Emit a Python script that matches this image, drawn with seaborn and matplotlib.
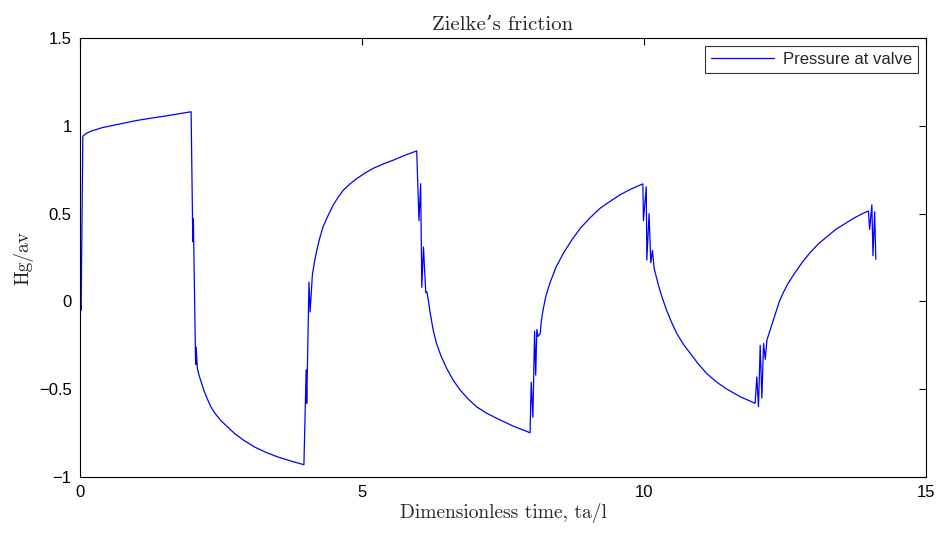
import matplotlib
matplotlib.use("Agg")
import matplotlib.pyplot as plt
import seaborn as sns
import pandas as pd

# Dimensionless time (ta/l) and pressure head at valve (Hg/av)
time_values = [
    0.00, 0.02, 0.05, 0.08, 0.12, 0.20, 0.30, 0.40, 0.55, 0.70, 0.85, 1.00, 1.25, 1.50, 1.75, 1.97,
    2.00, 2.01, 2.05, 2.06, 2.08, 2.11, 2.15, 2.20, 2.25, 2.32, 2.40, 2.50, 2.60, 2.75, 2.90, 3.10,
    3.30, 3.50, 3.75, 3.97,
    4.01, 4.02, 4.06, 4.08, 4.12, 4.16, 4.20, 4.25, 4.31, 4.40, 4.49, 4.58, 4.67, 4.79, 4.91, 5.05,
    5.20, 5.38, 5.56, 5.76, 5.97,
    6.01, 6.04, 6.06, 6.09, 6.13, 6.15, 6.18, 6.21, 6.26, 6.32, 6.40, 6.50, 6.62, 6.74, 6.88, 7.03,
    7.20, 7.39, 7.68, 7.98,
    8.00, 8.03, 8.06, 8.08, 8.10, 8.12, 8.16, 8.18, 8.21, 8.26, 8.33, 8.44, 8.57, 8.72, 8.87, 9.04,
    9.22, 9.40, 9.57, 9.77, 9.98,
    9.99, 10.04, 10.05, 10.09, 10.12, 10.15, 10.18, 10.23, 10.28, 10.34, 10.40, 10.49, 10.58, 10.70,
    10.82, 10.96, 11.11, 11.29, 11.47, 11.72, 11.97,
    12.00, 12.03, 12.06, 12.09, 12.12, 12.15, 12.18, 12.30, 12.35, 12.40, 12.47, 12.55, 12.67, 12.80,
    12.95, 13.10, 13.25, 13.40, 13.55, 13.70, 13.84, 13.98,
    14.00, 14.04, 14.06, 14.09, 14.11,
]
head_values = [
    0.00, -0.05, 0.94, 0.95, 0.958, 0.97, 0.98, 0.99, 1.00, 1.01, 1.02, 1.03, 1.043, 1.055, 1.068, 1.08,
    0.34, 0.47, -0.36, -0.26, -0.38, -0.42, -0.46, -0.51, -0.55, -0.60, -0.64, -0.68, -0.71, -0.755, -0.79, -0.83,
    -0.86, -0.885, -0.91, -0.93,
    -0.39, -0.58, 0.11, -0.06, 0.15, 0.23, 0.293, 0.36, 0.425, 0.49, 0.549, 0.595, 0.634, 0.67, 0.70, 0.73,
    0.758, 0.783, 0.805, 0.832, 0.857,
    0.46, 0.67, 0.08, 0.31, 0.05, 0.055, 0.00, -0.068, -0.16, -0.239, -0.31, -0.381, -0.45, -0.505, -0.555, -0.60,
    -0.635, -0.666, -0.71, -0.748,
    -0.46, -0.66, -0.17, -0.42, -0.16, -0.20, -0.182, -0.11, -0.049, 0.03, 0.103, 0.195, 0.274, 0.35, 0.416, 0.475,
    0.530, 0.57, 0.606, 0.64, 0.669,
    0.46, 0.653, 0.236, 0.50, 0.22, 0.29, 0.188, 0.125, 0.065, 0.005, -0.049, -0.12, -0.182, -0.245,
    -0.296, -0.355, -0.41, -0.46, -0.50, -0.545, -0.58,
    -0.43, -0.60, -0.25, -0.55, -0.24, -0.33, -0.22, -0.10, -0.05, 0.00, 0.05, 0.10, 0.16, 0.22,
    0.28, 0.33, 0.37, 0.41, 0.44, 0.47, 0.495, 0.515,
    0.41, 0.55, 0.26, 0.51, 0.24,
]
series_name = "Pressure at valve"
x_ticks = [0, 5, 10, 15]
y_ticks = [-1, -0.5, 0, 0.5, 1, 1.5]

df = pd.DataFrame({"t": time_values, "h": head_values, "series": series_name})

sns.set_style("white")
plt.rcParams["font.family"] = ["Liberation Sans", "DejaVu Sans"]
plt.rcParams["axes.unicode_minus"] = True

fig = plt.figure(figsize=(9.43, 5.35), dpi=100)
ax = fig.add_axes([80 / 943, 1 - 477 / 535, (926 - 80) / 943, (477 - 38) / 535])

sns.lineplot(data=df, x="t", y="h", hue="series", palette=["#0000ff"],
             sort=False, estimator=None, linewidth=0.9, ax=ax)

ax.set_xlim(0, 15)
ax.set_ylim(-1, 1.5)
ax.set_xticks(x_ticks)
ax.set_yticks(y_ticks)
ax.set_xticklabels([f"{v:g}" for v in x_ticks])
ax.set_yticklabels([f"{v:g}".replace("-", "\u2212") for v in y_ticks])
ax.tick_params(direction="in", length=5, width=0.8, top=True, right=True,
               labelsize=12, colors="black", pad=6)
for s in ax.spines.values():
    s.set_visible(True)
    s.set_color("black")
    s.set_linewidth(0.8)

serif = ["cmr10", "DejaVu Serif"]
ax.set_title("Zielke\u2019s friction", fontfamily=serif, fontsize=15, pad=6)
ax.set_xlabel("Dimensionless time, ta/l", fontfamily=serif, fontsize=14, labelpad=2)
ax.set_ylabel("Hg/av", fontfamily=serif, fontsize=14, labelpad=4)

leg = ax.legend(loc="upper right", fontsize=12, frameon=True, fancybox=False,
                handlelength=3.8, borderaxespad=0.5, borderpad=0.35,
                handletextpad=0.5, title=None)
leg.get_frame().set_edgecolor("black")
leg.get_frame().set_linewidth(0.8)

fig.savefig("out.png", dpi=100, facecolor="white")
